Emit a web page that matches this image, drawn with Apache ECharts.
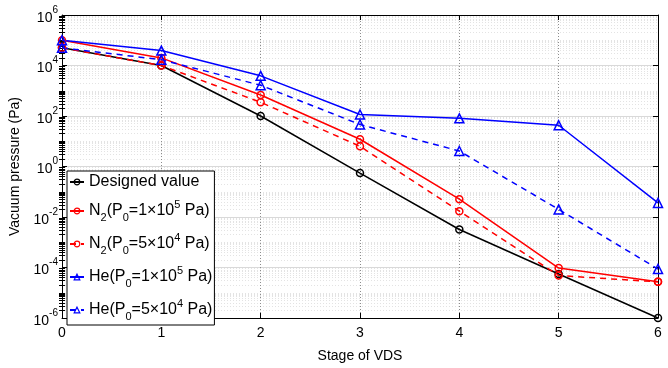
<!DOCTYPE html>
<html>
<head>
<meta charset="utf-8">
<script src="https://cdn.jsdelivr.net/npm/echarts@6/dist/echarts.min.js"></script>
<style>html,body{margin:0;padding:0;background:#fff}#c{width:668px;height:368px}</style>
</head>
<body>
<div id="c"></div>
<script>
const stages = [0, 1, 2, 3, 4, 5, 6];
const designed = [5e4, 1e4, 100, 0.55, 3.2e-3, 5.5e-5, 1e-6];
const n2High = [1e5, 2e4, 680, 12, 0.051, 9.5e-5, 2.7e-5];
const n2Low = [5e4, 1e4, 350, 6.3, 0.017, 4.8e-5, 2.7e-5];
const heHigh = [1e5, 3.9e4, 3.9e3, 115, 81, 43, 0.036];
const heLow = [5e4, 1.7e4, 1.65e3, 46, 4.1, 0.02, 8.7e-5];
const xTicks = [0, 1, 2, 3, 4, 5, 6];

const FONT = 'Liberation Sans';
const minorVals = [];
for (let k = -6; k < 6; k++) {
  for (let m = 1; m <= 9; m++) {
    if (m === 1 && k % 2 === 0) continue;
    minorVals.push(parseFloat((m * Math.pow(10, k)).toPrecision(3)));
  }
}

const legendText = {
  'Designed value': '{t|Designed value}',
  'N2 high': '{t|N}{sub|2}{t|(P}{sub|0}{t|=1×10}{sup|5}{t| Pa)}',
  'N2 low': '{t|N}{sub|2}{t|(P}{sub|0}{t|=5×10}{sup|4}{t| Pa)}',
  'He high': '{t|He(P}{sub|0}{t|=1×10}{sup|5}{t| Pa)}',
  'He low': '{t|He(P}{sub|0}{t|=5×10}{sup|4}{t| Pa)}'
};

function mk(name, vals, color, symbol, dashed, size) {
  return {
    name: name,
    type: 'line',
    data: stages.map((s, i) => [s, vals[i]]),
    symbol: symbol,
    symbolSize: size,
    showSymbol: true,
    xAxisIndex: 0,
    yAxisIndex: 0,
    lineStyle: { color: color, width: 1.5, type: dashed ? [6, 5] : 'solid' },
    itemStyle: { color: 'rgba(255,255,255,0)', borderColor: color, borderWidth: 1.5 },
    emphasis: { disabled: true },
    animation: false
  };
}

const chart = echarts.init(document.getElementById('c'), null, { renderer: 'canvas' });
const yLabelRich = {
  b: { fontFamily: FONT, fontSize: 14, color: '#000', lineHeight: 20, verticalAlign: 'bottom' },
  s: { fontFamily: FONT, fontSize: 10, color: '#000', lineHeight: 14, verticalAlign: 'top' }
};
chart.setOption({
  backgroundColor: '#fff',
  animation: false,
  grid: { left: 62, right: 10, top: 15, bottom: 40, containLabel: false },
  xAxis: [
    {
      type: 'value', min: 0, max: 6, interval: 1, position: 'bottom',
      name: 'Stage of VDS', nameLocation: 'middle', nameGap: 31,
      nameTextStyle: { fontFamily: FONT, fontSize: 14, color: '#000' },
      axisLine: { show: true, lineStyle: { color: '#000', width: 1 } },
      axisTick: { show: true, inside: true, length: 5, lineStyle: { color: '#000' } },
      axisLabel: { fontFamily: FONT, fontSize: 14, color: '#000', margin: 8,
        customValues: xTicks },
      splitLine: { show: true, lineStyle: { color: '#8c8c8c', type: [1, 2], width: 1 } }
    },
    {
      type: 'value', min: 0, max: 6, interval: 1, position: 'top',
      axisLine: { show: true, onZero: false, lineStyle: { color: '#000', width: 1 } },
      axisTick: { show: true, inside: true, length: 5, lineStyle: { color: '#000' } },
      axisLabel: { show: false },
      splitLine: { show: false }
    }
  ],
  yAxis: [
    {
      type: 'log', logBase: 10, min: 1e-6, max: 1e6, interval: 2, position: 'left',
      name: 'Vacuum pressure (Pa)', nameLocation: 'middle', nameGap: 31, nameRotate: 90,
      nameTextStyle: { fontFamily: FONT, fontSize: 14, color: '#000' },
      axisLine: { show: true, onZero: false, lineStyle: { color: '#000', width: 1 } },
      axisTick: { show: true, inside: true, length: 5, lineStyle: { color: '#000' } },
      axisLabel: {
        margin: 4, color: '#000',
        formatter: function (v) {
          const e = Math.round(Math.log10(v));
          return '{b|10}{s|' + e + '}';
        },
        rich: yLabelRich
      },
      splitLine: { show: true, lineStyle: { color: '#d9d9d9', width: 1 } }
    },
    {
      type: 'log', logBase: 10, min: 1e-6, max: 1e6, position: 'left',
      axisLine: { show: false },
      axisTick: { show: true, inside: true, length: 3, customValues: minorVals, lineStyle: { color: '#000' } },
      axisLabel: { show: false, customValues: minorVals },
      splitLine: { show: true, lineStyle: { color: '#e3e3e3', type: [1, 2], width: 1 } }
    },
    {
      type: 'log', logBase: 10, min: 1e-6, max: 1e6, interval: 2, position: 'right',
      axisLine: { show: true, onZero: false, lineStyle: { color: '#000', width: 1 } },
      axisTick: { show: true, inside: true, length: 5, lineStyle: { color: '#000' } },
      axisLabel: { show: false },
      splitLine: { show: false }
    },
    {
      type: 'log', logBase: 10, min: 1e-6, max: 1e6, position: 'right',
      axisLine: { show: false },
      axisTick: { show: true, inside: true, length: 3, customValues: minorVals, lineStyle: { color: '#000' } },
      axisLabel: { show: false, customValues: minorVals },
      splitLine: { show: false }
    }
  ],
  legend: {
    show: true,
    orient: 'vertical',
    left: 67, top: 171,
    padding: [3, 2, 3, 2],
    itemGap: 9,
    itemWidth: 14,
    itemHeight: 7,
    selectedMode: false,
    backgroundColor: '#fff',
    borderColor: '#000',
    borderWidth: 1,
    borderRadius: 0,
    z: 10,
    data: ['Designed value', 'N2 high', 'N2 low', 'He high', 'He low'],
    formatter: function (name) { return legendText[name]; },
    itemStyle: { borderWidth: 1.2 },
    textStyle: {
      fontFamily: FONT, fontSize: 16, color: '#000',
      rich: {
        t: { fontFamily: FONT, fontSize: 16, color: '#000', lineHeight: 24 },
        sub: { fontFamily: FONT, fontSize: 11, color: '#000', lineHeight: 12, verticalAlign: 'bottom' },
        sup: { fontFamily: FONT, fontSize: 11, color: '#000', lineHeight: 12, verticalAlign: 'top' }
      }
    }
  },
  series: [
    mk('Designed value', designed, '#000000', 'circle', false, 7),
    mk('N2 high', n2High, '#ff0000', 'circle', false, 7),
    mk('N2 low', n2Low, '#ff0000', 'circle', true, 7),
    mk('He high', heHigh, '#0000ff', 'triangle', false, 9),
    mk('He low', heLow, '#0000ff', 'triangle', true, 9)
  ]
});
</script>
</body>
</html>
